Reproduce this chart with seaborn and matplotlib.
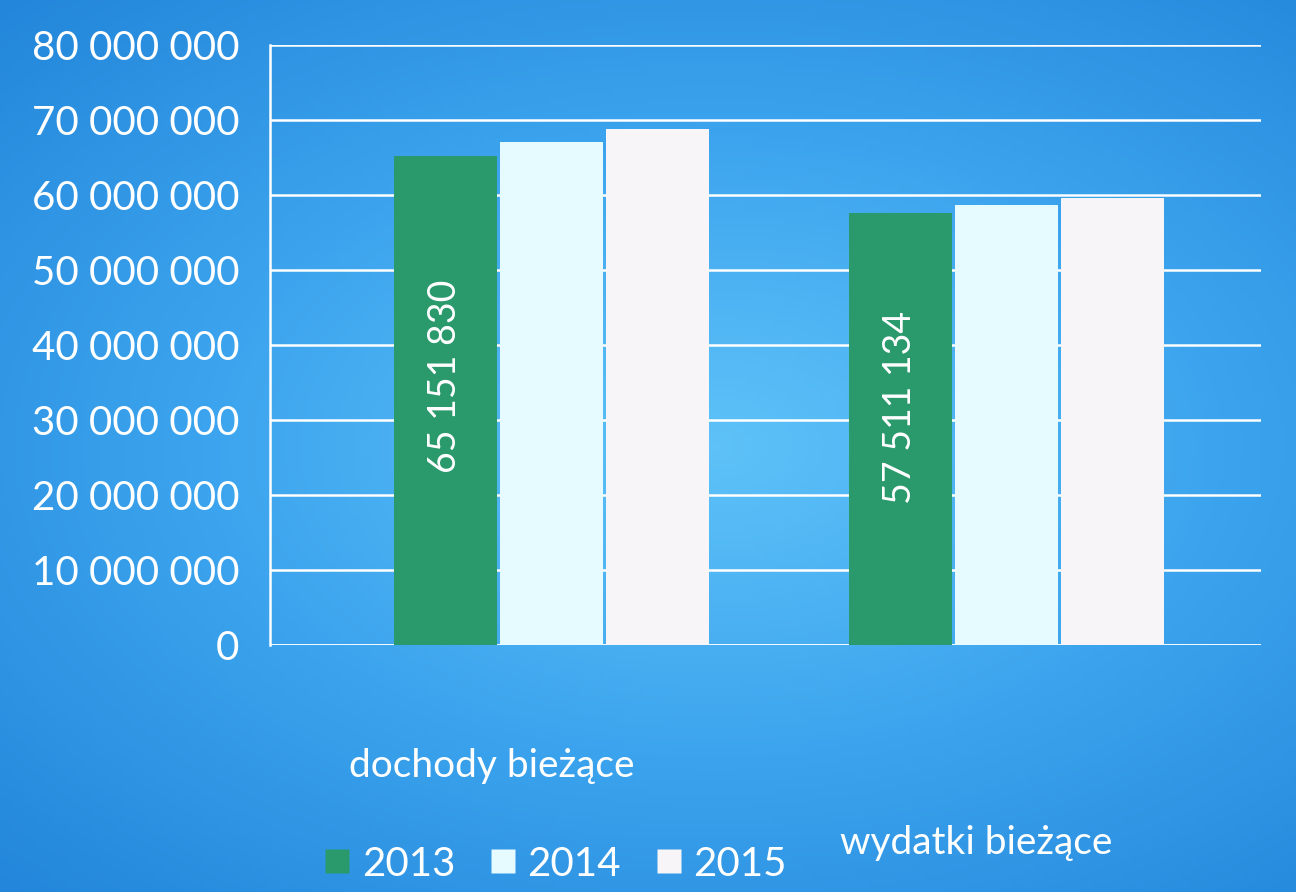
import numpy as np
import pandas as pd
import matplotlib
matplotlib.use("Agg")
import matplotlib.pyplot as plt
import matplotlib.transforms as mtransforms
from matplotlib.lines import Line2D
import seaborn as sns

categories = ["dochody bieżące", "wydatki bieżące"]
years = ["2013", "2014", "2015"]
values_2013 = [65151830, 57511134]
values_2014 = [67000000, 58600000]
values_2015 = [68800000, 59600000]
label_2013 = ["65 151 830", "57 511 134"]
ytick_values = [0, 10000000, 20000000, 30000000, 40000000, 50000000, 60000000, 70000000, 80000000]
ytick_labels = ["0", "10 000 000", "20 000 000", "30 000 000", "40 000 000",
                "50 000 000", "60 000 000", "70 000 000", "80 000 000"]

colors = ["#2a9a6c", "#e6fbff", "#f7f5f8"]

df = pd.DataFrame({
    "kategoria": categories * 3,
    "rok": [y for y in years for _ in categories],
    "wartosc": values_2013 + values_2014 + values_2015,
})

sns.set_theme(style="white")
plt.rcParams["font.family"] = ["Lato", "DejaVu Sans"]

fig = plt.figure(figsize=(12.96, 8.92), dpi=100)

# blue projector-style background
bg = fig.add_axes([0, 0, 1, 1], zorder=-10)
yy, xx = np.mgrid[0:1:200j, 0:1:300j]
r = np.sqrt(((xx - 0.55) / 0.9) ** 2 + ((yy - 0.5) / 0.8) ** 2)
bg.imshow(r, cmap=sns.blend_palette(["#5ec2f8", "#3ca4ee", "#2386da"], as_cmap=True),
          aspect="auto", extent=[0, 1, 0, 1], origin="lower")
bg.axis("off")

ax = fig.add_axes([0.208, 0.277, 0.765, 0.673])
ax.patch.set_alpha(0)

sns.barplot(data=df, x="kategoria", y="wartosc", hue="rok", palette=colors,
            saturation=1, width=0.7, gap=0.03, ax=ax, legend=False,
            edgecolor="none", zorder=3)

ax.set_xlim(-0.62, 1.56)
ax.set_ylim(0, 80000000)
ax.set_yticks(ytick_values)
ax.set_yticklabels(ytick_labels, color="white", fontsize=29)
ax.set_xlabel("")
ax.set_ylabel("")
ax.grid(axis="y", color="white", linewidth=1.8, zorder=0)
for s in ["top", "right", "bottom"]:
    ax.spines[s].set_visible(False)
ax.spines["left"].set_color("white")
ax.spines["left"].set_linewidth(1.8)
ax.axhline(0, color="white", linewidth=1.8, zorder=1)
ax.tick_params(axis="y", length=8, color="white", width=1.5, pad=14)
ax.tick_params(axis="x", length=0, pad=90)
ax.set_xticks(range(len(categories)))
ax.set_xticklabels(categories, color="white", fontsize=28)
# second category label sits lower, as in the tilted original
lbls = ax.get_xticklabels()
lbls[0].set_transform(lbls[0].get_transform() + mtransforms.ScaledTranslation(-0.6, 0.22, fig.dpi_scale_trans))
lbls[1].set_transform(lbls[1].get_transform() + mtransforms.ScaledTranslation(-0.3, -0.55, fig.dpi_scale_trans))

# data labels inside green bars
for bar, txt in zip(ax.containers[0], label_2013):
    ax.text(bar.get_x() + bar.get_width() / 2, bar.get_height() * 0.55, txt,
            rotation=90, ha="center", va="center", color="white", fontsize=27, zorder=4)

handles = [Line2D([], [], marker="s", linestyle="none", markersize=17,
                  markerfacecolor=c, markeredgecolor="none") for c in colors]
fig.legend(handles, years, loc="lower left", bbox_to_anchor=(0.22, -0.03), ncol=3,
           frameon=False, fontsize=29, labelcolor="white", handletextpad=0.2,
           columnspacing=0.8, handlelength=0.8)

fig.savefig("out.png", dpi=100)
